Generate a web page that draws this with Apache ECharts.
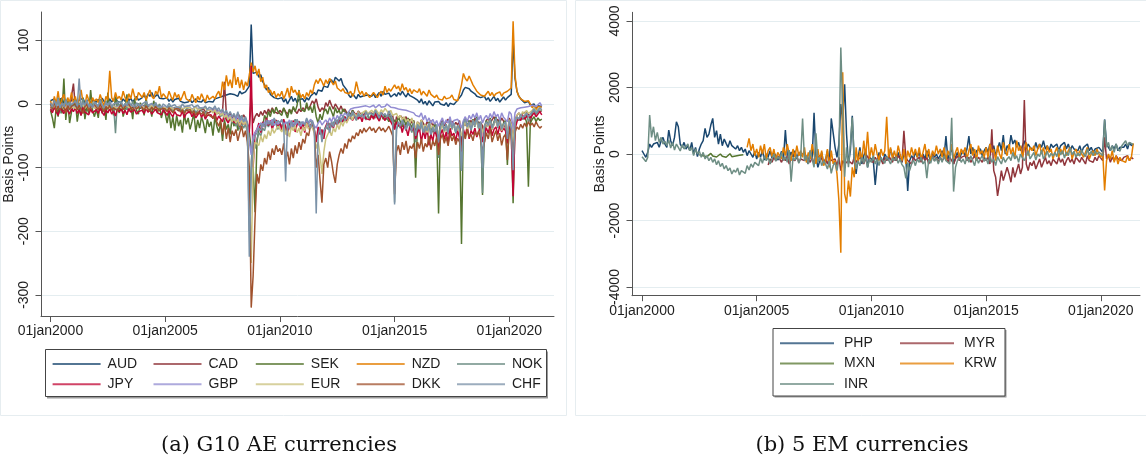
<!DOCTYPE html>
<html>
<head>
<meta charset="utf-8">
<title>Basis points: G10 AE and 5 EM currencies</title>
<script src="https://cdn.jsdelivr.net/npm/echarts@6/dist/echarts.min.js"></script>
<style>
html, body { margin: 0; padding: 0; background: #fff; }
#chart { width: 1146px; height: 457px; }
</style>
</head>
<body>
<div id="chart"></div>
<script>
// monthly readings, Jan 2000 .. Jun 2021 (one row per year)
const yearTicks = [2000, 2005, 2010, 2015, 2020];
const leftTicks = [-300, -200, -100, 0, 100];
const rightTicks = [-4000, -2000, 0, 2000, 4000];

const aud = [
  5,2,8,0,6,3,9,1,5,7,2,6,
  4,8,1,6,3,9,2,5,7,1,6,4,
  3,7,2,9,4,6,1,8,3,5,10,4,
  6,2,8,4,11,5,9,3,7,12,6,9,
  10,14,8,16,12,18,10,13,15,9,12,8,
  6,10,4,8,3,7,5,9,4,6,2,5,
  3,7,2,5,8,4,6,3,7,2,5,4,
  6,3,8,5,10,7,12,9,14,11,16,13,
  15,18,12,20,16,14,19,22,28,125,48,45,
  50,42,46,35,30,22,26,15,18,10,12,8,
  5,10,3,8,0,6,12,4,9,2,7,5,
  8,3,10,6,12,9,18,14,22,25,20,28,
  30,26,34,38,32,42,45,36,40,30,28,22,
  14,10,16,12,8,15,11,9,13,10,14,12,
  12,16,10,14,18,12,20,15,13,17,11,14,
  16,12,18,14,20,15,11,17,13,16,10,12,
  6,2,8,0,4,-2,5,1,-3,3,0,4,
  0,3,-2,2,-4,1,4,-1,2,6,8,14,
  22,26,28,24,20,18,16,12,14,10,8,12,
  6,10,4,8,12,5,9,3,7,11,6,10,
  12,15,100,40,20,12,8,5,2,0,4,-2,
  -5,0,-8,-3,-6,-4
];
const cad = [
  -5,-10,-3,-8,-12,-4,-9,-6,-11,-3,-7,-10,
  32,-6,-9,-2,-8,-5,-11,-4,-7,-9,-3,-6,
  -8,-4,-10,-6,-2,-9,-5,-7,-3,-8,-6,-4,
  -5,-9,-3,-7,-4,-8,-2,-6,-9,-5,-3,-7,
  -6,-2,-8,-4,-7,-3,-5,-9,-4,-6,-8,-5,
  -7,-10,-5,-9,-12,-6,-8,-11,-7,-10,-13,-9,
  -10,-14,-8,-12,-9,-15,-11,-13,-8,-12,-10,-14,
  -12,-8,-15,-10,-13,-18,-11,35,-16,-20,-14,-22,
  -18,-24,-15,-20,-26,-17,-22,-19,-40,10,-30,-20,
  -15,-20,-12,-18,-10,-16,-8,-14,-6,-12,-9,-15,
  -10,-14,-7,-12,-16,-9,-13,-6,-11,-15,-8,-12,
  -6,-10,-4,-8,-2,5,0,8,-5,-12,-6,-10,
  2,-4,6,-2,-8,0,-5,-10,-3,-12,-8,-14,
  -12,-16,-10,-14,-18,-11,-15,-13,-17,-12,-16,-14,
  -14,-18,-12,-16,-20,-13,-17,-15,-19,-14,-22,-18,
  -40,-20,-24,-18,-22,-26,-20,-28,-24,-30,-26,-45,
  -28,-34,-25,-30,-36,-28,-32,-26,-35,-30,-38,-55,
  -30,-26,-34,-28,-24,-32,-27,-35,-29,-33,-26,-70,
  -28,-34,-24,-30,-26,-32,-22,-28,-25,-30,-34,-60,
  -26,-22,-30,-25,-20,-28,-24,-30,-22,-27,-25,-50,
  -22,-30,-60,-25,-18,-14,-20,-15,-18,-12,-16,-28,
  -14,-10,-16,-12,-15,-11
];
const sek = [
  -10,-22,-38,-5,-20,8,-15,40,-25,5,-30,-12,
  -12,5,-28,-6,-18,10,-24,-4,-15,22,-10,-20,
  -8,-22,6,-15,-4,-25,18,-10,-2,-18,12,-6,
  -14,4,-20,-8,15,-12,-2,-24,8,-10,-16,2,
  -6,-18,10,-12,-4,-20,5,-8,-14,0,-22,-10,
  -15,-30,-12,-38,-20,-42,-18,-35,-25,-45,-16,-32,
  -22,-40,-28,-15,-44,-25,-38,-20,-30,-46,-24,-36,
  -28,-50,-20,-35,-45,-30,-58,-25,-40,-32,-48,-22,
  -35,-20,-42,-28,-18,-30,-25,-38,-45,-70,-100,-170,
  -60,-40,-30,-35,-18,-25,-12,-20,-8,-15,-5,-12,
  -10,-18,-6,-14,-22,-8,-16,-4,-12,-2,22,-8,
  -6,-12,2,-10,-4,-14,0,-20,-30,-16,-25,-12,
  -8,-16,-4,-12,-20,-6,-14,-10,-18,-8,-12,-16,
  -12,-20,-10,-18,-24,-14,-22,-16,-20,-12,-18,-25,
  -15,-22,-12,-20,-26,-16,-24,-18,-22,-28,-20,-30,
  -25,-32,-20,-28,-36,-24,-34,-22,-30,-38,-26,-116,
  -30,-40,-26,-45,-32,-48,-28,-38,-44,-30,-42,-172,
  -35,-28,-42,-32,-46,-26,-38,-30,-44,-34,-40,-220,
  -30,-22,-36,-26,-40,-24,-34,-20,-38,-28,-143,-35,
  -26,-34,-22,-38,-28,-20,-36,-24,-40,-30,-26,-96,
  -28,-40,-156,-30,-22,-26,-18,-24,-20,-28,-130,-30,
  -24,-20,-28,-22,-26,-24
];
const nzd = [
  5,-8,12,0,20,-5,8,15,-3,10,2,18,
  0,12,-6,8,22,3,-4,15,6,-2,10,4,
  8,2,15,5,-3,12,6,52,10,4,18,8,
  12,6,20,10,4,16,8,24,12,6,18,14,
  10,18,6,14,22,12,8,20,15,28,10,16,
  14,8,20,12,6,18,10,15,5,12,20,8,
  10,4,15,8,2,12,6,16,9,3,14,7,
  5,12,8,15,20,10,35,22,45,28,38,25,
  55,30,42,25,38,22,35,28,45,65,50,60,
  45,55,35,42,25,30,18,22,14,20,10,16,
  12,20,8,15,25,10,28,18,22,14,20,10,
  15,8,18,12,22,16,30,38,32,40,35,28,
  38,32,40,35,30,36,25,28,20,24,18,15,
  16,20,12,18,35,22,15,20,12,18,14,10,
  12,18,15,10,16,20,14,28,18,24,20,22,
  30,24,28,20,32,22,26,18,24,16,22,20,
  18,24,14,20,16,12,22,15,18,10,14,8,
  10,6,12,8,5,10,14,7,9,5,8,30,
  48,40,36,44,45,30,28,20,18,14,16,12,
  15,20,13,18,12,16,14,19,12,17,15,20,
  18,25,130,45,20,12,8,6,4,2,5,0,
  -6,-2,-9,-4,-7,-5
];
const nok = [
  0,-12,5,-8,10,-15,3,-6,8,-10,2,-5,
  -3,6,-9,2,-12,8,-4,5,-8,0,-6,3,
  2,-5,8,-3,-10,4,-6,1,-8,-2,-46,5,
  -4,3,-7,0,-9,2,-5,4,-3,-8,1,-6,
  -2,-6,3,-4,-8,0,-5,2,-7,-1,-4,-9,
  -6,-10,-3,-8,-12,-5,-9,-4,-11,-7,-13,-8,
  -9,-5,-12,-7,-14,-10,-6,-11,-8,-15,-9,-12,
  -10,-14,-8,-16,-12,-20,-15,-25,-18,-28,-22,-30,
  -25,-35,-28,-40,-30,-38,-32,-45,-200,-90,-60,-70,
  -55,-45,-50,-38,-42,-30,-36,-28,-34,-25,-32,-40,
  -30,-36,-26,-45,-34,-28,-38,-30,-24,-32,-27,-35,
  -28,-34,-24,-30,-26,-32,-40,-55,-45,-38,-50,-42,
  -35,-40,-30,-36,-28,-32,-25,-30,-22,-28,-20,-26,
  -18,-24,-15,-20,-26,-16,-22,-14,-20,-25,-17,-23,
  -20,-15,-22,-18,-25,-16,-21,-19,-24,-17,-23,-28,
  -155,-40,-32,-38,-28,-35,-42,-30,-36,-45,-33,-60,
  -35,-42,-30,-48,-36,-44,-32,-50,-38,-46,-34,-85,
  -38,-30,-44,-34,-48,-28,-40,-32,-46,-36,-42,-105,
  -32,-26,-38,-30,-42,-28,-36,-24,-40,-30,-140,-38,
  -30,-36,-26,-40,-32,-24,-38,-28,-42,-34,-30,-60,
  -28,-40,-95,-30,-22,-26,-18,-24,-20,-16,-28,-22,
  -14,-10,-16,-12,-8,-11
];
const jpy = [
  -8,-14,-5,-12,-18,-6,-10,-15,-4,-11,-16,-7,
  -12,-6,-15,-9,-18,-5,-13,-10,-17,-8,-14,-11,
  -9,-15,-6,-13,-18,-10,-14,-7,-16,-11,-19,-8,
  -12,-8,-15,-10,-17,-6,-13,-11,-9,-16,-12,-14,
  -10,-15,-7,-13,-9,-16,-12,-8,-14,-11,-17,-9,
  -13,-18,-10,-16,-20,-12,-17,-14,-19,-11,-22,-15,
  -16,-12,-20,-14,-22,-17,-13,-21,-15,-24,-18,-20,
  -17,-23,-14,-26,-19,-22,-28,-16,-25,-30,-20,-27,
  -24,-30,-22,-35,-26,-32,-28,-36,-45,60,-100,-45,
  -40,-30,-45,-28,-36,-22,-34,-26,-40,-30,-25,-35,
  -28,-42,-24,-36,-50,-30,-38,-26,-44,-32,-28,-40,
  -30,-45,-26,-38,-34,-28,-42,-60,-36,-48,-40,-55,
  -35,-28,-42,-30,-38,-25,-34,-22,-30,-26,-20,-28,
  -22,-18,-26,-20,-15,-24,-19,-28,-16,-23,-20,-25,
  -18,-24,-15,-22,-27,-17,-21,-26,-19,-23,-28,-30,
  -40,-28,-35,-30,-45,-32,-38,-50,-34,-42,-36,-55,
  -45,-38,-60,-42,-55,-36,-65,-48,-58,-40,-52,-72,
  -48,-40,-56,-44,-62,-38,-50,-46,-58,-42,-54,-75,
  -40,-50,-35,-55,-42,-48,-38,-52,-44,-36,-60,-45,
  -38,-46,-32,-50,-40,-36,-48,-34,-44,-38,-42,-62,
  -35,-45,-145,-40,-28,-22,-26,-18,-24,-20,-16,-22,
  -18,-14,-20,-16,-12,-17
];
const gbp = [
  -2,-6,0,-8,-3,-5,-1,-7,-4,-2,-6,-3,
  -4,-1,-7,-3,-5,0,-6,-2,-8,-4,-3,-5,
  -3,-6,-1,-5,-7,-2,-4,-6,0,-3,-5,-2,
  -4,-2,-6,-3,-1,-5,-7,-2,-4,-6,-3,-1,
  -2,-5,-3,-7,-4,-1,-6,-3,-5,-2,-4,-6,
  -5,-3,-8,-4,-6,-9,-5,-7,-3,-8,-6,-4,
  -7,-5,-9,-6,-4,-8,-10,-6,-7,-5,-9,-8,
  -8,-12,-7,-14,-10,-16,-12,-20,-15,-22,-18,-25,
  -20,-26,-18,-28,-22,-30,-24,-32,-60,-80,-50,-45,
  -40,-34,-30,-36,-28,-32,-26,-30,-24,-34,-28,-32,
  -30,-26,-34,-28,-32,-25,-36,-29,-33,-27,-31,-35,
  -28,-32,-26,-30,-24,-28,-34,-38,-30,-26,-33,-29,
  -25,-30,-22,-28,-20,-26,-18,-24,-16,-20,-14,-18,
  -12,-8,-10,-6,-9,-5,-8,-4,-7,-3,-6,-5,
  -4,-2,-6,-3,-1,-5,-2,-4,0,-3,-5,-2,
  -6,-4,-8,-5,-9,-7,-10,-8,-12,-9,-14,-18,
  -15,-20,-14,-25,-18,-28,-22,-30,-24,-32,-26,-35,
  -28,-22,-32,-25,-30,-20,-34,-26,-28,-24,-30,-38,
  -26,-20,-28,-18,-24,-16,-22,-14,-25,-18,-30,-22,
  -18,-24,-15,-22,-12,-20,-16,-26,-14,-21,-18,-28,
  -12,-16,-40,-14,-8,-10,-6,-9,-5,-8,-4,-6,
  -2,0,-4,-1,2,-3
];
const eur = [
  -3,-7,-1,-9,-4,-6,-2,-8,-5,-3,-7,-4,
  -5,-2,-8,-4,-6,-1,-7,-3,-9,-5,-4,-6,
  -4,-7,-2,-6,-8,-3,-5,-7,-1,-4,-6,-3,
  -5,-3,-7,-4,-2,-6,-8,-3,-5,-7,-4,-2,
  -3,-6,-4,-8,-5,-2,-7,-4,-6,-3,-5,-7,
  -6,-4,-9,-5,-7,-10,-6,-8,-4,-9,-7,-5,
  -8,-6,-10,-7,-5,-9,-11,-7,-8,-6,-10,-9,
  -10,-14,-9,-16,-12,-18,-14,-22,-17,-25,-20,-28,
  -22,-30,-24,-34,-26,-32,-28,-36,-120,-250,-90,-60,
  -58,-65,-50,-60,-48,-55,-42,-50,-38,-46,-40,-35,
  -38,-44,-32,-48,-40,-52,-36,-42,-34,-45,-38,-50,
  -36,-42,-30,-40,-34,-38,-45,-70,-60,-80,-110,-75,
  -55,-48,-42,-50,-38,-44,-32,-40,-28,-35,-25,-30,
  -22,-18,-25,-15,-20,-12,-18,-14,-16,-10,-15,-12,
  -10,-14,-8,-12,-16,-9,-13,-7,-11,-15,-10,-18,
  -20,-15,-22,-18,-25,-20,-28,-24,-30,-22,-32,-38,
  -28,-35,-25,-40,-32,-45,-30,-38,-34,-42,-36,-48,
  -40,-32,-44,-36,-42,-30,-38,-34,-40,-36,-44,-50,
  -35,-28,-40,-30,-36,-26,-34,-28,-38,-32,-45,-36,
  -30,-36,-26,-40,-32,-24,-36,-28,-42,-34,-30,-48,
  -25,-32,-60,-28,-18,-14,-20,-12,-16,-10,-15,-12,
  -10,-6,-12,-8,-5,-9
];
const dkk = [
  0,-8,5,-12,-3,-10,2,-6,-14,-2,-9,-4,
  -6,3,-10,-2,-8,-15,-4,0,-11,-5,-7,-1,
  -3,-9,0,-7,-12,-4,-8,-2,-10,-6,-3,-11,
  -5,-1,-9,-4,-7,0,-6,-10,-3,-8,-5,-2,
  -6,-10,-3,-8,-12,-5,-9,-4,-7,-11,-6,-9,
  -8,-12,-6,-10,-14,-8,-11,-7,-13,-9,-15,-10,
  -12,-9,-15,-11,-18,-13,-10,-16,-12,-20,-14,-18,
  -16,-22,-18,-28,-35,-25,-48,-30,-55,-38,-60,-42,
  -50,-40,-58,-45,-35,-52,-42,-60,-100,-320,-270,-180,
  -110,-125,-95,-105,-85,-95,-75,-88,-70,-80,-65,-75,
  -70,-80,-62,-88,-75,-95,-70,-85,-65,-78,-60,-72,
  -55,-62,-45,-50,-35,-30,-40,-100,-80,-120,-155,-95,
  -85,-100,-75,-90,-110,-124,-95,-80,-70,-78,-62,-70,
  -55,-60,-50,-55,-45,-50,-40,-46,-38,-44,-40,-36,
  -42,-38,-45,-40,-36,-42,-38,-44,-40,-35,-42,-50,
  -142,-75,-65,-80,-60,-72,-58,-78,-66,-70,-62,-85,
  -60,-70,-55,-75,-62,-68,-50,-72,-58,-66,-52,-80,
  -55,-48,-62,-52,-66,-46,-58,-50,-64,-54,-60,-72,
  -45,-55,-40,-52,-48,-58,-44,-50,-42,-56,-75,-60,
  -45,-55,-38,-60,-50,-42,-58,-46,-65,-52,-48,-88,
  -40,-50,-80,-45,-36,-40,-32,-38,-30,-36,-28,-34,
  -30,-36,-28,-34,-38,-35
];
const chf = [
  2,-5,6,-3,8,-6,1,-4,5,-2,3,-1,
  0,4,-3,40,-5,2,-2,6,-4,1,-6,3,
  1,-3,5,-2,-6,3,-1,4,-5,0,-3,2,
  -1,3,-4,1,-3,5,-2,0,-5,2,-1,-4,
  0,-3,4,-2,-5,1,-3,2,-4,-1,-6,0,
  -2,-5,1,-4,-7,-1,-5,-3,-6,0,-4,-7,
  -3,-6,-1,-5,-8,-2,-6,-4,-7,-3,-9,-5,
  -5,-8,-3,-10,-6,-12,-8,-15,-10,-18,-12,-20,
  -15,-22,-12,-25,-18,-28,-20,-30,-240,-110,-60,-50,
  -45,-38,-42,-30,-36,-25,-32,-28,-34,-22,-30,-26,
  -30,-24,-35,-122,-28,-40,-26,-36,-30,-24,-34,-28,
  -25,-32,-22,-30,-38,-26,-40,-172,-50,-36,-60,-42,
  -38,-30,-45,-28,-36,-24,-32,-20,-28,-18,-26,-22,
  -15,-20,-12,-18,-24,-14,-20,-16,-22,-12,-18,-14,
  -12,-18,-10,-16,-22,-13,-19,-15,-21,-11,-17,-24,
  -158,-38,-28,-35,-25,-32,-40,-28,-34,-42,-30,-50,
  -32,-40,-28,-45,-35,-42,-30,-48,-36,-44,-32,-60,
  -36,-28,-42,-32,-45,-26,-38,-30,-44,-34,-40,-105,
  -30,-24,-36,-28,-40,-26,-34,-22,-38,-28,-100,-36,
  -28,-34,-24,-38,-30,-22,-36,-26,-40,-32,-28,-55,
  -26,-38,-104,-28,-20,-24,-16,-22,-18,-14,-20,-16,
  -12,-8,-14,-10,-6,-9
];

const php = [
  100,0,-100,50,300,200,300,250,350,200,400,500,
  300,200,720,400,250,500,970,820,300,200,350,150,
  250,100,350,0,200,-80,150,300,400,770,500,600,
  870,1070,500,700,300,600,250,450,320,200,400,250,
  300,150,250,100,200,50,150,-50,100,0,-100,80,
  -150,50,-100,120,-180,0,-80,100,-120,40,-50,-180,
  -100,80,-150,720,-50,-120,60,-80,100,-150,50,-60,
  -100,50,-200,-300,100,-150,1240,-80,-400,-200,50,-300,
  -200,100,-350,1070,1120,200,-100,300,1500,1000,2100,600,
  -300,100,1150,-200,-600,-100,200,-300,-50,100,-400,-100,
  -100,-200,-930,-300,50,-150,-250,0,-100,-200,150,-50,
  -50,-200,50,-150,-250,0,-100,-1110,-200,-50,-150,50,
  -100,50,-200,0,-150,100,-50,-200,50,-100,0,-150,
  -50,100,-100,540,-150,0,200,-300,-100,50,-150,0,
  100,-50,150,540,0,200,-100,100,50,150,-50,100,
  200,50,300,100,250,-50,150,350,100,570,0,250,
  150,570,300,420,200,350,100,250,400,150,300,200,
  250,100,350,150,300,200,400,150,250,100,300,200,
  150,300,100,250,200,350,150,300,100,250,150,200,
  100,250,50,200,150,300,100,200,50,150,100,200,
  150,50,1040,300,200,100,250,150,300,100,200,250,
  200,300,150,350,250,300
];
const myr = Array(66).fill(null).concat([
  -330,-150,-250,-100,-200,-50,
  -150,-250,-100,-200,-50,-300,-150,-100,-200,-50,-250,-150,
  -100,-200,-50,-150,-250,-100,-300,-150,-200,-50,-100,-250,
  -150,-300,-100,-200,-250,-150,-350,-100,-500,-200,-300,-250,
  -200,-150,-300,-100,-250,-150,-200,-100,-300,-150,-50,-200,
  -150,-250,-100,-200,-50,-150,-300,-100,-200,-50,-150,-250,
  -100,-200,-50,-150,-250,700,-100,-200,-150,-300,-100,-200,
  -150,-100,-250,-50,-200,-100,-300,-150,-50,-200,-100,-250,
  -100,-200,-150,-50,-250,-100,-200,-300,-150,-50,-200,-100,
  -150,-50,-200,-100,-250,-150,-50,-200,-100,-150,-250,-100,
  -200,-100,-300,740,-500,-700,-1260,-900,-500,-800,-600,-400,
  -600,-850,-400,-700,-500,-300,-600,-400,1620,-300,-500,-250,
  -350,-200,-450,-300,-150,-400,-250,-100,-300,-200,-350,-150,
  -200,-300,-100,-250,-150,-350,-200,-100,-250,-150,-300,-100,
  -150,-250,-100,-200,-300,-50,-200,-150,-250,-100,-200,-50,
  -100,-200,500,-150,-50,-250,-100,-200,-50,-150,-100,-200,
  -100,-150,-50,-200,-100,-150
]);
const mxn = Array(30).fill(null).concat([
  -20,10,-50,0,-80,-30,
  20,-60,-10,-90,-40,0,-70,-20,-100,-50,10,-80,
  -30,-60,0,-40,-90,-20
]);
const krw = Array(55).fill(null).concat([
  200,470,100,300,-50,
  150,-100,250,0,300,-150,100,200,-80,150,-200,50,
  100,-150,200,-50,300,0,-200,150,-100,250,-50,100,
  -100,200,-250,50,-150,300,0,-300,150,-200,100,-350,
  -200,150,-400,100,-300,-200,-600,-1400,-2970,2460,-1200,-1480,
  -800,-1280,-400,-700,200,-300,100,-200,400,-100,670,-150,
  200,-100,300,0,-200,150,-50,100,1120,-100,200,-150,
  100,-150,250,0,-200,150,-300,100,-100,200,-50,150,
  -100,200,-150,50,300,-100,150,-200,100,-50,250,0,
  150,-100,200,-200,100,-50,300,-150,50,200,-100,150,
  0,200,-150,100,300,-50,150,-200,250,0,100,-100,
  200,-100,300,50,150,-200,250,0,-150,350,100,-50,
  300,0,200,-150,400,100,250,-100,150,350,-50,200,
  100,250,-50,150,300,0,200,-100,250,50,150,-150,
  50,200,-100,150,0,250,-50,100,200,-150,50,150,
  -50,100,150,-100,50,200,-150,0,100,-50,150,0,
  -100,50,-1100,-200,0,-150,100,-250,-50,-300,-100,-200,
  -150,-250,-50,-200,-100,320
]);
const inr = [
  -80,-150,-230,-100,1170,500,820,400,650,350,500,300,
  380,250,420,180,350,120,300,200,90,280,150,220,
  300,100,200,-50,150,0,80,-100,50,-150,-50,-200,
  -100,-250,-150,-320,-200,-380,-280,-450,-350,-500,-420,-600,
  -480,-550,-420,-630,-500,-450,-580,-350,-480,-300,-400,-250,
  -200,-350,-120,-280,-50,-200,-100,-300,-150,0,-220,-80,
  -150,50,-200,-80,-250,120,-830,-100,-180,-50,-280,-120,
  1070,-200,-50,-300,100,-150,-400,620,-250,-100,-350,-200,
  -300,-450,-200,-580,-350,-250,-500,-150,3200,1300,-680,200,
  -400,300,1100,-150,-450,-200,-350,-100,-280,-50,-400,-150,
  -250,-50,-300,-150,-350,-100,-200,-280,-80,-180,-300,-120,
  -200,-80,-280,-150,-320,-400,-730,-250,-500,-300,-180,-350,
  -150,-250,-100,-300,-200,-730,-150,-280,-80,-220,-120,-300,
  -100,-250,-50,-200,-150,-300,1090,-1130,-400,-200,-100,-250,
  -150,-300,-80,-250,-50,-200,-350,-100,-280,-150,-50,-220,
  -120,-300,-50,-250,-150,-350,-80,-200,-300,-100,-250,-150,
  -80,-200,50,-150,-50,-250,0,-120,-200,-50,100,-150,
  -100,50,-180,0,-80,120,-150,-50,80,-100,20,-60,
  50,-80,150,-30,100,-120,60,-50,180,-20,80,-100,
  30,-60,120,0,-80,150,-20,80,-50,100,-10,60,
  120,-50,1020,200,350,100,250,50,300,150,80,250,
  200,400,250,350,300,280
];

// month positions on the year axis
const months = [];
for (let i = 0; i < 258; i++) months.push(2000 + i / 12);

const FONT = "'Liberation Sans', Arial, Helvetica, sans-serif";
const TXT = '#1e1e1e';
const AXIS = '#555';
const GRID = '#e4edf0';

const leftSeries = [
  ['AUD', aud, '#1a476f'], ['CAD', cad, '#90353b'], ['SEK', sek, '#55752f'],
  ['NZD', nzd, '#e37e00'], ['NOK', nok, '#6e8e84'], ['JPY', jpy, '#c10534'],
  ['GBP', gbp, '#938dd2'], ['EUR', eur, '#cac27e'], ['DKK', dkk, '#a0522d'],
  ['CHF', chf, '#7b92a8']
];
const rightSeries = [
  ['PHP', php, '#1a476f'], ['MYR', myr, '#90353b'], ['MXN', mxn, '#55752f'],
  ['KRW', krw, '#e37e00'], ['INR', inr, '#6e8e84']
];

const makeSeries = (list, idx) => list.map(([name, vals, color]) => ({
  name, type: 'line', xAxisIndex: idx, yAxisIndex: idx,
  data: vals.map((v, i) => [months[i], v]),
  showSymbol: false, symbol: 'none', silent: true,
  itemStyle: { color },
  lineStyle: { color, width: 1.5 }
}));

const xAxisFor = (idx, min, max) => ({
  type: 'value', gridIndex: idx, min, max,
  axisLine: { show: true, onZero: false, lineStyle: { color: AXIS } },
  axisTick: { show: true, length: 5.5, customValues: yearTicks, lineStyle: { color: AXIS } },
  axisLabel: { customValues: yearTicks, formatter: v => '01jan' + v, margin: 8,
    fontSize: 14, color: TXT, fontFamily: FONT },
  splitLine: { show: false }
});

const yAxisFor = (idx, min, max, ticks, gap) => ({
  type: 'value', gridIndex: idx, min, max,
  name: 'Basis Points', nameLocation: 'middle', nameGap: gap,
  nameTextStyle: { fontSize: 14, color: TXT, fontFamily: FONT },
  axisLine: { show: true, onZero: false, lineStyle: { color: AXIS } },
  axisTick: { show: true, length: 5.5, customValues: ticks, lineStyle: { color: AXIS } },
  axisLabel: { customValues: ticks, rotate: 90, margin: 10, formatter: v => String(v),
    fontSize: 14, color: TXT, fontFamily: FONT },
  splitLine: { show: true, lineStyle: { color: GRID, width: 1 } }
});

const legendCol = (names, left, top, w, pad) => ({
  orient: 'vertical', left, top, padding: 0, itemGap: 6.3,
  icon: 'rect', itemWidth: w, itemHeight: 2, selectedMode: false,
  data: names.map(n => ({ name: n, itemStyle: { opacity: 0.75 } })),
  textStyle: { fontSize: 14, color: TXT, fontFamily: FONT, padding: [0, 0, 0, pad] }
});

const captionFont = "21px 'DejaVu Serif', serif";

const chart = echarts.init(document.getElementById('chart'), null, { renderer: 'canvas' });
chart.setOption({
  animation: false,
  backgroundColor: '#fff',
  grid: [
    { left: 41, top: 12, width: 513, height: 304.5 },
    { left: 632, top: 12.3, width: 508, height: 283.4 }
  ],
  xAxis: [xAxisFor(0, 1999.586, 2021.949), xAxisFor(1, 1999.564, 2021.709)],
  yAxis: [yAxisFor(0, -334, 144.5, leftTicks, 20), yAxisFor(1, -4262, 4262, rightTicks, 25)],
  legend: [
    legendCol(['AUD', 'JPY'], 52.6, 357, 48, 2),
    legendCol(['CAD', 'GBP'], 153.5, 357, 48, 2),
    legendCol(['SEK', 'EUR'], 255.8, 357, 48, 2),
    legendCol(['NZD', 'DKK'], 356.7, 357, 48, 2),
    legendCol(['NOK', 'CHF'], 457, 357, 48, 2),
    legendCol(['PHP', 'MXN', 'INR'], 780, 336.3, 54, 5),
    legendCol(['MYR', 'KRW'], 900, 336.3, 54, 5)
  ],
  graphic: [
    { type: 'rect', z: -10, shape: { x: 0.5, y: 0.5, width: 566, height: 415 },
      style: { fill: '#fff', stroke: '#e6edf0', lineWidth: 1 } },
    { type: 'rect', z: -10, shape: { x: 575.5, y: 0.5, width: 575, height: 415 },
      style: { fill: '#fff', stroke: '#e6edf0', lineWidth: 1 } },
    { type: 'rect', z: -5, shape: { x: 47, y: 351.5, width: 501, height: 47 },
      style: { fill: '#9a9a9a' } },
    { type: 'rect', z: -4, shape: { x: 45.5, y: 349.5, width: 501, height: 47 },
      style: { fill: '#fff', stroke: '#444', lineWidth: 1 } },
    { type: 'rect', z: -5, shape: { x: 774.5, y: 330, width: 232, height: 67.5 },
      style: { fill: '#9a9a9a' } },
    { type: 'rect', z: -4, shape: { x: 773, y: 328.5, width: 232, height: 67.5 },
      style: { fill: '#fff', stroke: '#444', lineWidth: 1 } },
    { type: 'text', z: 5, x: 279, y: 446,
      style: { text: '(a) G10 AE currencies', textAlign: 'center',
        textVerticalAlign: 'middle', fill: '#111', font: captionFont } },
    { type: 'text', z: 5, x: 862, y: 446,
      style: { text: '(b) 5 EM currencies', textAlign: 'center',
        textVerticalAlign: 'middle', fill: '#111', font: captionFont } }
  ],
  series: makeSeries(leftSeries, 0).concat(makeSeries(rightSeries, 1))
});
</script>
</body>
</html>
